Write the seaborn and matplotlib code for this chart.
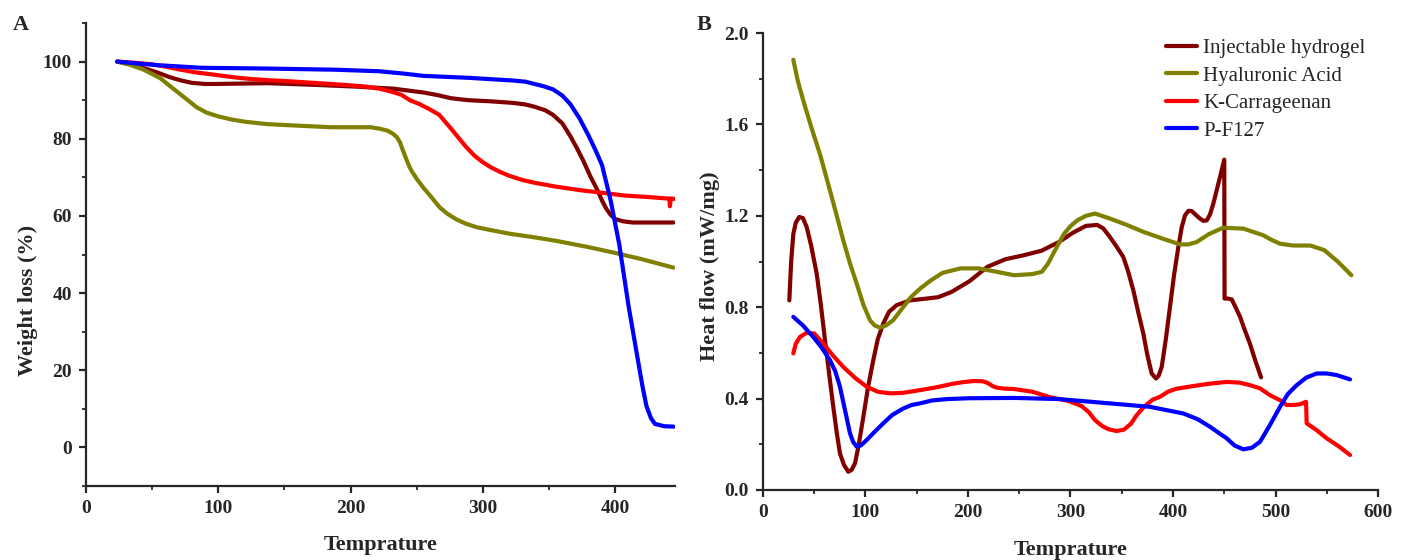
import matplotlib
matplotlib.use('Agg')
import matplotlib.pyplot as plt
import seaborn as sns
import pandas as pd
from matplotlib.ticker import MultipleLocator, FormatStrFormatter

# ---- panel A (TGA) ----
hydrogel_a_t = [23.6, 33, 43, 53, 63, 72, 80, 90, 97, 137, 171, 205, 232, 255, 266, 276, 289, 306, 322.6, 332, 339, 347, 353, 360, 366, 371, 376, 381, 386.5, 390, 393, 396.5, 400, 406, 413, 444]
hydrogel_a_w = [100, 99.4, 98.4, 97.3, 96, 95.1, 94.5, 94.2, 94.2, 94.4, 94, 93.5, 93, 92, 91.3, 90.5, 90, 89.7, 89.3, 88.9, 88.3, 87.4, 86.2, 84, 80.7, 77.6, 74.2, 70.4, 66.7, 64, 62, 60.3, 59.2, 58.6, 58.3, 58.3]

ha_a_t = [23.6, 33, 43, 50, 56.6, 63, 70, 77, 83.5, 91, 100, 110, 120.5, 137, 154, 184.6, 215, 222, 228, 232, 235, 237.3, 239, 241, 243.5, 246, 250, 254.8, 260, 267.4, 273, 280, 287, 295, 305, 320, 340, 356, 380, 400, 420, 444]
ha_a_w = [100, 99.2, 98, 96.8, 95.6, 93.8, 91.9, 90, 88.2, 86.8, 85.8, 85, 84.4, 83.8, 83.5, 83.0, 83, 82.6, 82.1, 81.3, 80.4, 79.1, 77.5, 75.7, 73.5, 71.7, 69.6, 67.4, 65.3, 62.2, 60.6, 59.1, 58, 57.1, 56.4, 55.4, 54.4, 53.5, 51.9, 50.4, 48.8, 46.6]

kc_a_t = [23.6, 37, 50, 60, 70, 83, 97, 110, 121, 137, 154, 176, 198, 212, 221.5, 230, 238.4, 244.8, 252, 260, 267, 275, 281, 287.5, 294, 300, 306, 313, 320, 330, 339, 355, 373, 390, 406.7, 425, 440, 441, 441.3, 442, 445]
kc_a_w = [100, 99.7, 99.3, 98.7, 98, 97.2, 96.6, 96, 95.6, 95.2, 94.9, 94.4, 93.9, 93.5, 93, 92.3, 91.4, 90, 89, 87.6, 86.2, 83, 80.5, 77.8, 75.5, 73.9, 72.6, 71.4, 70.4, 69.3, 68.6, 67.6, 66.7, 66, 65.3, 64.9, 64.5, 64.5, 62.5, 64.5, 64.4]

pf_a_t = [23.6, 53, 87, 137, 188, 221.5, 240, 255, 289, 322.6, 332, 339, 346, 353, 360, 366, 373, 380, 385, 390, 396.6, 403, 410, 417, 420.5, 423.6, 427, 430, 437, 444]
pf_a_w = [100, 99.1, 98.4, 98.2, 97.9, 97.5, 96.9, 96.3, 95.8, 95.1, 94.8, 94.2, 93.6, 92.8, 91.2, 89, 85.3, 80.7, 77.1, 73.2, 63.9, 52.7, 36.8, 22.9, 16, 10.7, 7.6, 6.1, 5.5, 5.4]

# ---- panel B (DSC) ----
hydrogel_b_t = [25.7, 27.5, 29.6, 32, 35.4, 39, 42.6, 47, 52.4, 56.5, 60.5, 64.5, 68.6, 72, 75.1, 79, 83.2, 86.5, 89.8, 93.5, 97.9, 102.5, 107.6, 112, 117.4, 123, 130.4, 143.4, 160, 171, 184, 201.5, 219, 236.5, 254, 271.6, 289, 302, 315, 326, 332, 338.5, 345, 351.5, 356, 361.3, 366, 371, 375, 379.2, 383.4, 386, 389, 393, 397, 401, 405.2, 408.5, 411.7, 415, 418.2, 422, 426.3, 429.5, 432.9, 436, 439.3, 442.5, 445.9, 448, 450, 450.3, 453.5, 457.3, 461, 465.4, 470, 475, 480, 485.9]
hydrogel_b_h = [0.83, 1.0, 1.12, 1.17, 1.195, 1.19, 1.151, 1.07, 0.947, 0.81, 0.656, 0.51, 0.364, 0.25, 0.16, 0.11, 0.08, 0.088, 0.117, 0.2, 0.32, 0.45, 0.568, 0.66, 0.729, 0.78, 0.809, 0.83, 0.838, 0.844, 0.867, 0.914, 0.977, 1.01, 1.027, 1.047, 1.086, 1.125, 1.156, 1.16, 1.145, 1.107, 1.065, 1.02, 0.96, 0.874, 0.78, 0.685, 0.59, 0.51, 0.488, 0.5, 0.539, 0.66, 0.80, 0.94, 1.064, 1.15, 1.202, 1.222, 1.221, 1.205, 1.188, 1.178, 1.18, 1.205, 1.253, 1.31, 1.37, 1.41, 1.446, 0.838, 0.838, 0.834, 0.80, 0.758, 0.70, 0.641, 0.57, 0.493]

ha_b_t = [29.6, 34, 39.3, 47, 55.6, 60.5, 65.4, 72, 78.3, 85, 91.4, 98, 104.4, 109, 114, 120, 127, 135, 144.5, 153, 163, 175, 192.7, 210, 228, 245, 262.8, 272, 278, 285, 293.5, 300, 306.6, 315, 324, 338.5, 355, 371, 390, 406.8, 415, 423, 435, 449, 468.6, 488, 496, 504.4, 517, 534, 547.5, 560.7, 574]
ha_b_h = [1.883, 1.79, 1.705, 1.59, 1.47, 1.39, 1.31, 1.2, 1.093, 0.99, 0.904, 0.81, 0.743, 0.72, 0.711, 0.72, 0.743, 0.79, 0.845, 0.88, 0.915, 0.95, 0.97, 0.97, 0.955, 0.94, 0.945, 0.955, 0.99, 1.05, 1.12, 1.155, 1.18, 1.2, 1.21, 1.188, 1.16, 1.13, 1.10, 1.075, 1.075, 1.085, 1.12, 1.148, 1.144, 1.115, 1.095, 1.078, 1.07, 1.07, 1.05, 1.00, 0.94]

kc_b_t = [29.6, 32, 36.1, 42.6, 50, 58.8, 68, 78.3, 90, 101.2, 112, 124, 136, 153, 170, 184, 195, 206, 214, 219, 224, 228, 235, 245, 263, 280, 298, 311, 318, 324, 331, 337, 345, 352, 359, 364.6, 372, 380, 387.3, 395, 403, 419.8, 435, 452.4, 465, 475, 484.9, 494.6, 504.4, 511, 517, 523.9, 529.8, 530.4, 540, 550, 562, 572.7]
kc_b_h = [0.598, 0.64, 0.67, 0.688, 0.685, 0.641, 0.59, 0.539, 0.49, 0.452, 0.43, 0.423, 0.425, 0.437, 0.45, 0.464, 0.472, 0.477, 0.476, 0.469, 0.455, 0.448, 0.444, 0.442, 0.43, 0.406, 0.39, 0.367, 0.34, 0.305, 0.28, 0.266, 0.258, 0.264, 0.29, 0.328, 0.365, 0.395, 0.408, 0.43, 0.443, 0.455, 0.465, 0.473, 0.47, 0.459, 0.445, 0.415, 0.393, 0.372, 0.372, 0.375, 0.386, 0.292, 0.262, 0.226, 0.19, 0.153]

pf_b_t = [29.6, 39, 49, 57, 65.4, 70.5, 75.1, 80, 84.9, 88, 91.4, 95.5, 101.2, 109, 117.4, 126, 136.9, 145, 153, 165, 180, 201.5, 245, 289, 338.5, 377.6, 410, 424, 436, 444, 452.4, 460, 468.6, 477, 484.9, 494, 504.4, 512, 520.7, 530, 540.2, 550, 559.7, 572.7]
pf_b_h = [0.758, 0.72, 0.67, 0.625, 0.568, 0.52, 0.452, 0.35, 0.248, 0.21, 0.19, 0.195, 0.219, 0.255, 0.292, 0.328, 0.357, 0.372, 0.379, 0.392, 0.398, 0.4016, 0.403, 0.398, 0.379, 0.364, 0.335, 0.31, 0.277, 0.252, 0.226, 0.195, 0.178, 0.185, 0.211, 0.28, 0.364, 0.42, 0.459, 0.492, 0.51, 0.51, 0.503, 0.484]

labels = ['Injectable hydrogel', 'Hyaluronic Acid', 'K-Carrageenan', 'P-F127']
colors = ['#800000', '#808000', '#FF0000', '#0000FF']

sns.set_style('ticks')
plt.rcParams['font.family'] = ['Liberation Serif', 'DejaVu Serif']
plt.rcParams['axes.linewidth'] = 1.6

fig = plt.figure(figsize=(14.02, 5.6), dpi=100)
ax1 = fig.add_axes([0.0613, 0.1321, 0.420, 0.8268])
ax2 = fig.add_axes([0.5442, 0.125, 0.4387, 0.816])

series_a = [(hydrogel_a_t, hydrogel_a_w), (ha_a_t, ha_a_w), (kc_a_t, kc_a_w), (pf_a_t, pf_a_w)]
series_b = [(hydrogel_b_t, hydrogel_b_h), (ha_b_t, ha_b_h), (kc_b_t, kc_b_h), (pf_b_t, pf_b_h)]

for (t, w), lab, c in zip(series_a, labels, colors):
    df = pd.DataFrame({'T': t, 'W': w})
    sns.lineplot(data=df, x='T', y='W', ax=ax1, color=c, lw=3, sort=False, estimator=None)

for (t, h), lab, c in zip(series_b, labels, colors):
    df = pd.DataFrame({'T': t, 'H': h})
    sns.lineplot(data=df, x='T', y='H', ax=ax2, color=c, lw=3, sort=False, estimator=None, label=lab)

ax1.set_xlim(0, 445)
ax1.set_ylim(-10, 110)
ax1.xaxis.set_major_locator(MultipleLocator(100))
ax1.xaxis.set_minor_locator(MultipleLocator(50))
ax1.yaxis.set_major_locator(MultipleLocator(20))
ax1.yaxis.set_minor_locator(MultipleLocator(10))
ax1.set_xlabel('Temprature', fontsize=16, fontweight='bold', labelpad=13)
ax1.set_ylabel('Weight loss (%)', fontsize=16, fontweight='bold')
ax1.yaxis.set_label_coords(-0.0815, 0.40)

ax2.set_xlim(0, 600)
ax2.set_ylim(0, 2.0)
ax2.xaxis.set_major_locator(MultipleLocator(100))
ax2.xaxis.set_minor_locator(MultipleLocator(50))
ax2.yaxis.set_major_locator(MultipleLocator(0.4))
ax2.yaxis.set_minor_locator(MultipleLocator(0.2))
ax2.yaxis.set_major_formatter(FormatStrFormatter('%.1f'))
ax2.set_xlabel('Temprature', fontsize=16, fontweight='bold', labelpad=14)
ax2.set_ylabel('Heat flow (mW/mg)', fontsize=16, fontweight='bold')
ax2.yaxis.set_label_coords(-0.0695, 0.49)

for ax in (ax1, ax2):
    sns.despine(ax=ax)
    ax.tick_params(which='major', direction='out', length=5, width=1.6, labelsize=14, pad=5)
    ax.tick_params(which='minor', direction='out', length=3, width=1.3)
    for lbl in ax.get_xticklabels() + ax.get_yticklabels():
        lbl.set_fontweight('bold')

ax2.legend(loc='upper right', bbox_to_anchor=(1.0, 1.015), frameon=False, fontsize=15,
           handlelength=1.5, handletextpad=0.3, labelspacing=0.38, borderaxespad=0.2)

fig.text(0.009, 0.955, 'A', fontsize=16, fontweight='bold', va='center')
fig.text(0.497, 0.955, 'B', fontsize=16, fontweight='bold', va='center')

fig.savefig('out.png', dpi=100)
